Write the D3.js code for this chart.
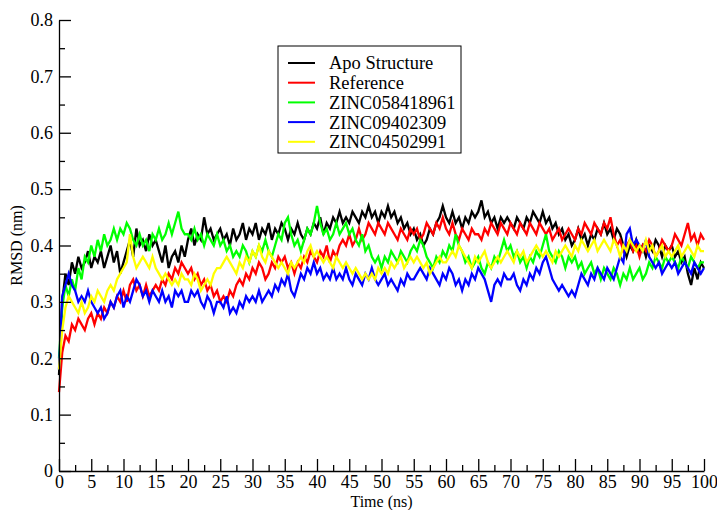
<!DOCTYPE html>
<head>
  <title>RMSD vs Time</title>
  <style>
    body { margin: 0; background: #fff; }
  </style>
</head>
<body>
<script src="https://cdn.jsdelivr.net/npm/d3@7"></script>
<script>
  var names = ["Apo Structure", "Reference", "ZINC058418961", "ZINC09402309", "ZINC04502991"];
  var colors = ["#000000", "#ff0000", "#00ff00", "#0000ff", "#ffff00"];

  var apo = [
    0.17,0.30,0.35,0.33,0.37,0.35,0.38,0.36,0.37,0.39, 0.36,0.38,0.37,0.39,0.36,0.38,0.40,0.37,0.39,0.35,
    0.37,0.39,0.41,0.38,0.43,0.40,0.41,0.39,0.42,0.40, 0.41,0.39,0.37,0.40,0.36,0.38,0.39,0.37,0.40,0.38,
    0.41,0.43,0.40,0.42,0.41,0.45,0.42,0.43,0.41,0.42, 0.43,0.41,0.42,0.40,0.43,0.41,0.42,0.44,0.41,0.43,
    0.42,0.44,0.41,0.43,0.42,0.44,0.41,0.43,0.42,0.44, 0.43,0.41,0.43,0.42,0.44,0.42,0.41,0.43,0.42,0.44,
    0.43,0.45,0.42,0.44,0.43,0.45,0.44,0.46,0.44,0.45, 0.44,0.46,0.45,0.44,0.46,0.45,0.47,0.45,0.46,0.44,
    0.46,0.45,0.47,0.45,0.46,0.44,0.45,0.43,0.44,0.42, 0.43,0.41,0.42,0.40,0.41,0.43,0.42,0.44,0.45,0.47,
    0.45,0.44,0.46,0.44,0.45,0.43,0.45,0.44,0.46,0.45, 0.46,0.48,0.45,0.46,0.44,0.45,0.43,0.45,0.44,0.45,
    0.44,0.43,0.45,0.44,0.43,0.45,0.44,0.46,0.45,0.44, 0.46,0.44,0.45,0.43,0.44,0.42,0.43,0.41,0.42,0.40,
    0.41,0.43,0.41,0.42,0.40,0.42,0.41,0.43,0.42,0.44, 0.42,0.43,0.41,0.43,0.42,0.40,0.38,0.40,0.39,0.41,
    0.39,0.40,0.38,0.40,0.39,0.41,0.40,0.38,0.40,0.39, 0.40,0.38,0.39,0.37,0.38,0.35,0.33,0.36,0.34,0.37,
    0.36
  ];
  var reference = [
    0.14,0.21,0.24,0.23,0.26,0.25,0.27,0.26,0.25,0.27, 0.28,0.26,0.28,0.27,0.29,0.28,0.30,0.29,0.31,0.30,
    0.32,0.30,0.33,0.34,0.32,0.33,0.31,0.33,0.31,0.32, 0.33,0.32,0.34,0.33,0.35,0.34,0.36,0.35,0.37,0.36,
    0.35,0.36,0.34,0.35,0.33,0.34,0.32,0.33,0.31,0.32, 0.30,0.31,0.30,0.32,0.31,0.33,0.34,0.33,0.35,0.34,
    0.36,0.35,0.37,0.36,0.34,0.35,0.37,0.36,0.38,0.37, 0.38,0.36,0.37,0.35,0.37,0.36,0.38,0.37,0.39,0.38,
    0.37,0.39,0.38,0.40,0.37,0.39,0.38,0.40,0.41,0.40, 0.42,0.40,0.41,0.43,0.41,0.42,0.44,0.43,0.42,0.44,
    0.43,0.42,0.44,0.43,0.42,0.41,0.43,0.42,0.41,0.43, 0.42,0.43,0.41,0.42,0.44,0.43,0.42,0.44,0.43,0.45,
    0.43,0.42,0.44,0.42,0.41,0.43,0.42,0.41,0.43,0.42, 0.42,0.41,0.43,0.42,0.44,0.43,0.42,0.44,0.43,0.42,
    0.44,0.43,0.42,0.44,0.43,0.42,0.44,0.43,0.42,0.44, 0.43,0.42,0.43,0.41,0.42,0.43,0.41,0.42,0.43,0.42,
    0.41,0.43,0.42,0.44,0.43,0.42,0.44,0.43,0.42,0.44, 0.43,0.45,0.42,0.40,0.41,0.39,0.40,0.41,0.39,0.40,
    0.38,0.40,0.39,0.41,0.40,0.38,0.39,0.41,0.40,0.39, 0.40,0.42,0.41,0.40,0.42,0.44,0.41,0.42,0.40,0.42,
    0.41
  ];
  var zinc058418961 = [
    0.20,0.29,0.33,0.31,0.34,0.32,0.36,0.34,0.38,0.37, 0.40,0.38,0.41,0.39,0.42,0.40,0.41,0.43,0.41,0.43,
    0.42,0.44,0.43,0.41,0.40,0.42,0.40,0.41,0.39,0.42, 0.41,0.43,0.41,0.42,0.44,0.42,0.44,0.46,0.43,0.42,
    0.42,0.41,0.43,0.41,0.42,0.40,0.42,0.41,0.40,0.42, 0.40,0.41,0.39,0.40,0.38,0.39,0.38,0.40,0.39,0.37,
    0.39,0.38,0.40,0.39,0.41,0.39,0.38,0.40,0.42,0.41, 0.44,0.45,0.42,0.40,0.41,0.39,0.41,0.43,0.42,0.44,
    0.47,0.44,0.42,0.43,0.41,0.42,0.44,0.42,0.43,0.44, 0.42,0.43,0.41,0.40,0.42,0.39,0.40,0.38,0.37,0.38,
    0.36,0.38,0.37,0.39,0.38,0.37,0.39,0.38,0.37,0.39, 0.40,0.39,0.41,0.40,0.38,0.37,0.36,0.38,0.37,0.39,
    0.38,0.40,0.39,0.42,0.40,0.39,0.37,0.38,0.36,0.37, 0.38,0.36,0.35,0.37,0.36,0.38,0.37,0.39,0.41,0.39,
    0.40,0.38,0.39,0.37,0.38,0.36,0.38,0.37,0.39,0.38, 0.40,0.42,0.39,0.38,0.37,0.39,0.38,0.36,0.38,0.37,
    0.38,0.36,0.37,0.35,0.36,0.37,0.35,0.36,0.34,0.36, 0.35,0.34,0.36,0.35,0.33,0.35,0.34,0.36,0.34,0.35,
    0.36,0.34,0.35,0.37,0.36,0.38,0.37,0.36,0.38,0.37, 0.38,0.37,0.36,0.38,0.37,0.36,0.38,0.37,0.36,0.37,
    0.37
  ];
  var zinc09402309 = [
    0.18,0.31,0.33,0.35,0.33,0.32,0.30,0.31,0.30,0.32, 0.30,0.29,0.28,0.29,0.27,0.28,0.30,0.29,0.31,0.32,
    0.29,0.31,0.30,0.32,0.34,0.33,0.31,0.32,0.30,0.32, 0.31,0.30,0.32,0.30,0.31,0.29,0.32,0.31,0.32,0.30,
    0.30,0.32,0.31,0.32,0.30,0.29,0.31,0.30,0.28,0.30, 0.30,0.29,0.31,0.28,0.29,0.28,0.30,0.29,0.31,0.30,
    0.31,0.30,0.32,0.30,0.31,0.32,0.31,0.33,0.32,0.34, 0.33,0.35,0.32,0.31,0.33,0.35,0.34,0.36,0.35,0.37,
    0.35,0.36,0.34,0.35,0.34,0.36,0.34,0.35,0.34,0.36, 0.34,0.33,0.35,0.34,0.33,0.35,0.34,0.36,0.34,0.33,
    0.34,0.35,0.33,0.34,0.33,0.32,0.34,0.33,0.35,0.34, 0.34,0.35,0.36,0.35,0.34,0.36,0.35,0.34,0.33,0.35,
    0.34,0.36,0.35,0.33,0.34,0.32,0.34,0.33,0.35,0.34, 0.36,0.35,0.34,0.32,0.30,0.33,0.34,0.33,0.35,0.34,
    0.34,0.35,0.33,0.32,0.34,0.33,0.35,0.34,0.36,0.35, 0.37,0.38,0.36,0.34,0.33,0.32,0.33,0.32,0.31,0.32,
    0.31,0.33,0.35,0.34,0.33,0.35,0.34,0.36,0.35,0.34, 0.36,0.35,0.34,0.36,0.38,0.37,0.42,0.43,0.40,0.41,
    0.40,0.39,0.41,0.38,0.37,0.36,0.37,0.35,0.36,0.37, 0.36,0.37,0.35,0.36,0.37,0.36,0.35,0.37,0.36,0.35,
    0.36
  ];
  var zinc04502991 = [
    0.18,0.25,0.29,0.31,0.30,0.29,0.28,0.30,0.28,0.29, 0.31,0.30,0.32,0.31,0.30,0.32,0.33,0.32,0.34,0.35,
    0.36,0.37,0.42,0.38,0.36,0.37,0.38,0.37,0.36,0.38, 0.36,0.35,0.34,0.35,0.34,0.33,0.34,0.33,0.35,0.34,
    0.34,0.33,0.35,0.34,0.32,0.33,0.34,0.33,0.35,0.36, 0.36,0.37,0.38,0.37,0.36,0.35,0.37,0.36,0.38,0.37,
    0.39,0.38,0.40,0.38,0.37,0.39,0.38,0.37,0.36,0.37, 0.36,0.35,0.37,0.36,0.37,0.38,0.37,0.39,0.40,0.38,
    0.39,0.38,0.37,0.38,0.37,0.36,0.38,0.37,0.36,0.37, 0.36,0.35,0.36,0.35,0.34,0.35,0.34,0.35,0.34,0.36,
    0.35,0.36,0.35,0.37,0.36,0.37,0.38,0.36,0.37,0.38, 0.37,0.38,0.37,0.36,0.37,0.35,0.36,0.37,0.38,0.37,
    0.37,0.38,0.39,0.38,0.40,0.39,0.38,0.37,0.36,0.38, 0.37,0.38,0.39,0.37,0.36,0.37,0.38,0.37,0.38,0.39,
    0.38,0.37,0.39,0.38,0.39,0.37,0.38,0.39,0.40,0.39, 0.38,0.39,0.38,0.37,0.39,0.38,0.39,0.40,0.39,0.38,
    0.40,0.39,0.41,0.40,0.39,0.40,0.41,0.39,0.40,0.41, 0.40,0.39,0.41,0.40,0.38,0.40,0.39,0.41,0.40,0.39,
    0.40,0.39,0.41,0.39,0.40,0.38,0.39,0.40,0.38,0.39, 0.38,0.39,0.40,0.38,0.39,0.40,0.39,0.38,0.40,0.39,
    0.39
  ];
  var series = [apo, reference, zinc058418961, zinc09402309, zinc04502991];

  var xMajor = d3.range(0, 101, 5);
  var xMinor = d3.range(2.5, 100, 5);
  var yMajor = [0, 0.1, 0.2, 0.3, 0.4, 0.5, 0.6, 0.7, 0.8];
  var yMinor = [0.05, 0.15, 0.25, 0.35, 0.45, 0.55, 0.65, 0.75];

  var svgW = 717, svgH = 510;
  var plotL = 59, plotR = 704, plotT = 20, plotB = 471;
  var serif = "'Liberation Serif', 'Times New Roman', Times, serif";

  var x = d3.scaleLinear().domain([0, 100]).range([plotL, plotR]);
  var y = d3.scaleLinear().domain([0, 0.8]).range([plotB, plotT]);

  var svg = d3.select("body").append("svg")
      .attr("width", svgW)
      .attr("height", svgH);

  // traces, drawn in legend order so yellow ends on top
  var line = d3.line()
      .x(function(d, i) { return x(i * 0.5); })
      .y(function(d) { return y(d); });

  svg.append("g").selectAll("path").data(series).enter().append("path")
      .attr("d", line)
      .attr("fill", "none")
      .attr("stroke", function(d, i) { return colors[i]; })
      .attr("stroke-width", 2.3);

  // axes, ticks point inward like xmgrace
  var xAxis = svg.append("g").attr("transform", "translate(0," + plotB + ")")
      .call(d3.axisBottom(x).tickValues(xMajor).tickSize(-12).tickSizeOuter(0).tickPadding(4)
        .tickFormat(d3.format("d")));
  svg.append("g").attr("transform", "translate(0," + plotB + ")")
      .call(d3.axisBottom(x).tickValues(xMinor).tickSize(-6).tickSizeOuter(0).tickFormat(""))
      .select(".domain").remove();

  var yAxis = svg.append("g").attr("transform", "translate(" + plotL + ",0)")
      .call(d3.axisLeft(y).tickValues(yMajor).tickSize(-12).tickSizeOuter(0).tickPadding(6)
        .tickFormat(function(d) { return d === 0 ? "0" : d3.format(".1f")(d); }));
  svg.append("g").attr("transform", "translate(" + plotL + ",0)")
      .call(d3.axisLeft(y).tickValues(yMinor).tickSize(-6).tickSizeOuter(0).tickFormat(""))
      .select(".domain").remove();

  svg.selectAll(".tick line").attr("stroke", "#000").attr("stroke-width", 1.3);
  svg.selectAll(".domain").attr("stroke", "#000").attr("stroke-width", 1.3);
  xAxis.selectAll("text").style("font-size", "18px");
  yAxis.selectAll("text").style("font-size", "18px");

  svg.append("text")
      .attr("x", (plotL + plotR) / 2)
      .attr("y", 507)
      .attr("text-anchor", "middle")
      .style("font-size", "16px")
      .text("Time (ns)");

  svg.append("text")
      .attr("transform", "translate(22," + ((plotT + plotB) / 2) + ") rotate(-90)")
      .attr("text-anchor", "middle")
      .style("font-size", "16px")
      .text("RMSD (nm)");

  // legend box
  var legend = svg.append("g").attr("transform", "translate(278,46)");
  legend.append("rect")
      .attr("width", 183).attr("height", 107)
      .attr("fill", "#fff").attr("stroke", "#000").attr("stroke-width", 1);
  var rows = legend.selectAll("g.row").data(names).enter().append("g")
      .attr("class", "row")
      .attr("transform", function(d, i) { return "translate(0," + (17 + i * 19.7) + ")"; });
  rows.append("line")
      .attr("x1", 10).attr("x2", 37)
      .attr("stroke", function(d, i) { return colors[i]; })
      .attr("stroke-width", 2);
  rows.append("text")
      .attr("x", 51)
      .attr("dy", "0.35em")
      .style("font-size", "18.5px")
      .text(function(d) { return d; });

  svg.selectAll("text").style("font-family", serif).attr("fill", "#000");
</script>
</body>
